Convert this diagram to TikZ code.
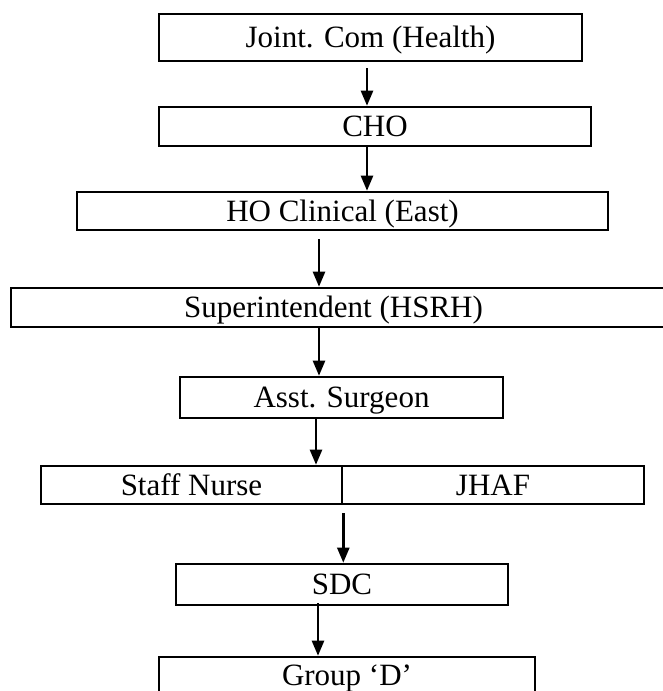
\documentclass[tikz,border=0pt]{standalone}
\usepackage{fontspec}
\setmainfont{Liberation Serif}
\usetikzlibrary{arrows.meta}
\begin{document}
\begin{tikzpicture}[
  x=1pt, y=-1pt,
  postbox/.style={
    draw,
    line width=2.6pt,
    inner sep=0pt,
    text height=20.5pt,
    text depth=0pt,
    font=\fontsize{31}{36}\selectfont
  },
  flow/.style={
    line width=2.4pt,
    -{Triangle[length=15pt,width=12pt]}
  }
]
\useasboundingbox (0,0) rectangle (663,691);
\clip (0,0) rectangle (663,691);
\node[postbox, minimum width=423pt, minimum height=47pt] (joint) at (370.5,37.5) {Joint. Com (Health)};
\node[postbox, minimum width=432pt, minimum height=39pt] (cho) at (375,126.5) {CHO};
\node[postbox, minimum width=531pt, minimum height=38pt] (ho) at (342.5,211) {HO Clinical (East)};
\node[postbox, minimum width=679pt, minimum height=39pt] (super) at (350.5,307.5) {Superintendent (HSRH)\hspace*{34pt}};
\node[postbox, minimum width=323pt, minimum height=41pt] (asst) at (341.5,397.5) {Asst. Surgeon};
\node[postbox, minimum width=301pt, minimum height=38pt] (nurse) at (191.5,485) {Staff Nurse};
\node[postbox, minimum width=302pt, minimum height=38pt] (jhaf) at (493,485) {JHAF};
\node[postbox, minimum width=332pt, minimum height=41pt] (sdc) at (342,584.5) {SDC};
\node[postbox, minimum width=376pt, minimum height=37pt] (group) at (347,675.5) {Group ‘D’};
\draw[flow] ([xshift=-3.5pt,yshift=-6pt]joint.south) -- ([xshift=-3.5pt]joint.south |- cho.north);
\draw[flow] ([xshift=-8pt]cho.south) -- ([xshift=-8pt]cho.south |- ho.north);
\draw[flow] ([xshift=-23.5pt,yshift=-8pt]ho.south) -- ([xshift=-23.5pt]ho.south |- super.north);
\draw[flow] ([xshift=-22.5pt]asst.north |- super.south) -- ([xshift=-22.5pt]asst.north);
\draw[flow] ([xshift=-25.5pt]asst.south) -- ([xshift=-25.5pt]asst.south |- nurse.north);
\draw[flow] ([yshift=-8pt]nurse.south east) -- (nurse.south east |- sdc.north);
\draw[flow] ([xshift=-24pt,yshift=3pt]sdc.south) -- ([xshift=-24pt]sdc.south |- group.north);
\end{tikzpicture}
\end{document}
